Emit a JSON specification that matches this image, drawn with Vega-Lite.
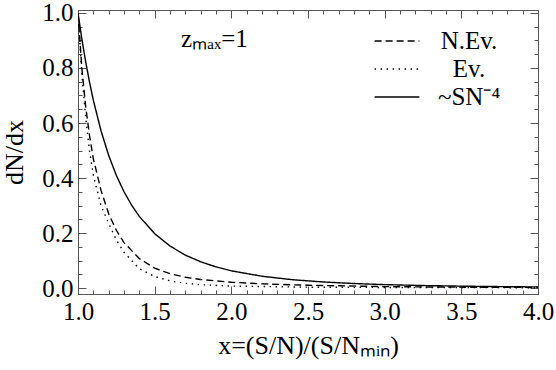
{
  "$schema": "https://vega.github.io/schema/vega-lite/v6.json",
  "width": 460,
  "height": 284,
  "autosize": "none",
  "padding": {"left": 78, "top": 10, "right": 18, "bottom": 76},
  "background": "white",
  "config": {
    "view": {"stroke": "#555", "strokeWidth": 1},
    "font": "Liberation Serif"
  },
  "resolve": {"axis": {"x": "independent", "y": "independent"}},
  "layer": [
    {
      "data": {"values": [
        {"series": "~SN⁻⁴", "x": 1.0, "y": 1.0},
        {"series": "~SN⁻⁴", "x": 1.025, "y": 0.906},
        {"series": "~SN⁻⁴", "x": 1.05, "y": 0.8227},
        {"series": "~SN⁻⁴", "x": 1.075, "y": 0.7489},
        {"series": "~SN⁻⁴", "x": 1.1, "y": 0.683},
        {"series": "~SN⁻⁴", "x": 1.15, "y": 0.5718},
        {"series": "~SN⁻⁴", "x": 1.2, "y": 0.4823},
        {"series": "~SN⁻⁴", "x": 1.25, "y": 0.4096},
        {"series": "~SN⁻⁴", "x": 1.3, "y": 0.3501},
        {"series": "~SN⁻⁴", "x": 1.35, "y": 0.3011},
        {"series": "~SN⁻⁴", "x": 1.4, "y": 0.2603},
        {"series": "~SN⁻⁴", "x": 1.5, "y": 0.1975},
        {"series": "~SN⁻⁴", "x": 1.6, "y": 0.1526},
        {"series": "~SN⁻⁴", "x": 1.7, "y": 0.1197},
        {"series": "~SN⁻⁴", "x": 1.8, "y": 0.0953},
        {"series": "~SN⁻⁴", "x": 1.9, "y": 0.0768},
        {"series": "~SN⁻⁴", "x": 2.0, "y": 0.0625},
        {"series": "~SN⁻⁴", "x": 2.2, "y": 0.0427},
        {"series": "~SN⁻⁴", "x": 2.4, "y": 0.0301},
        {"series": "~SN⁻⁴", "x": 2.6, "y": 0.0219},
        {"series": "~SN⁻⁴", "x": 2.8, "y": 0.0163},
        {"series": "~SN⁻⁴", "x": 3.0, "y": 0.0123},
        {"series": "~SN⁻⁴", "x": 3.25, "y": 0.009},
        {"series": "~SN⁻⁴", "x": 3.5, "y": 0.0067},
        {"series": "~SN⁻⁴", "x": 3.75, "y": 0.0051},
        {"series": "~SN⁻⁴", "x": 4.0, "y": 0.0039},
        {"series": "N.Ev.", "x": 1.0, "y": 1.0},
        {"series": "N.Ev.", "x": 1.025, "y": 0.8},
        {"series": "N.Ev.", "x": 1.05, "y": 0.66},
        {"series": "N.Ev.", "x": 1.075, "y": 0.555},
        {"series": "N.Ev.", "x": 1.1, "y": 0.47},
        {"series": "N.Ev.", "x": 1.15, "y": 0.355},
        {"series": "N.Ev.", "x": 1.2, "y": 0.27},
        {"series": "N.Ev.", "x": 1.25, "y": 0.21},
        {"series": "N.Ev.", "x": 1.3, "y": 0.165},
        {"series": "N.Ev.", "x": 1.4, "y": 0.107},
        {"series": "N.Ev.", "x": 1.5, "y": 0.072},
        {"series": "N.Ev.", "x": 1.6, "y": 0.052},
        {"series": "N.Ev.", "x": 1.7, "y": 0.039},
        {"series": "N.Ev.", "x": 1.8, "y": 0.031},
        {"series": "N.Ev.", "x": 2.0, "y": 0.021},
        {"series": "N.Ev.", "x": 2.2, "y": 0.015},
        {"series": "N.Ev.", "x": 2.5, "y": 0.01},
        {"series": "N.Ev.", "x": 3.0, "y": 0.005},
        {"series": "N.Ev.", "x": 3.5, "y": 0.003},
        {"series": "N.Ev.", "x": 4.0, "y": 0.002},
        {"series": "Ev.", "x": 1.0, "y": 1.0},
        {"series": "Ev.", "x": 1.025, "y": 0.78},
        {"series": "Ev.", "x": 1.05, "y": 0.62},
        {"series": "Ev.", "x": 1.075, "y": 0.5},
        {"series": "Ev.", "x": 1.1, "y": 0.41},
        {"series": "Ev.", "x": 1.15, "y": 0.3},
        {"series": "Ev.", "x": 1.2, "y": 0.235},
        {"series": "Ev.", "x": 1.25, "y": 0.175},
        {"series": "Ev.", "x": 1.3, "y": 0.13},
        {"series": "Ev.", "x": 1.4, "y": 0.07},
        {"series": "Ev.", "x": 1.5, "y": 0.042},
        {"series": "Ev.", "x": 1.6, "y": 0.026},
        {"series": "Ev.", "x": 1.7, "y": 0.017},
        {"series": "Ev.", "x": 1.8, "y": 0.012},
        {"series": "Ev.", "x": 2.0, "y": 0.007},
        {"series": "Ev.", "x": 2.5, "y": 0.003},
        {"series": "Ev.", "x": 3.0, "y": 0.002},
        {"series": "Ev.", "x": 4.0, "y": 0.001}
      ]},
      "mark": {"type": "line", "color": "black", "strokeWidth": 1.4, "clip": true},
      "encoding": {
        "x": {
          "field": "x", "type": "quantitative",
          "scale": {"domain": [1, 4], "nice": false, "zero": false},
          "axis": {
            "orient": "bottom",
            "title": "x=(S/N)/(S/Nₘᵢₙ)",
            "titleFont": "Liberation Serif", "titleFontSize": 26, "titleFontWeight": "normal", "titleColor": "black",
            "titlePadding": 4,
            "values": [1.0,1.1,1.2,1.3,1.4,1.5,1.6,1.7,1.8,1.9,2.0,2.1,2.2,2.3,2.4,2.5,2.6,2.7,2.8,2.9,3.0,3.1,3.2,3.3,3.4,3.5,3.6,3.7,3.8,3.9,4.0],
            "labelExpr": "abs(datum.value*2 - round(datum.value*2)) < 0.001 ? format(datum.value, '.1f') : ''",
            "labelFont": "Liberation Serif", "labelFontSize": 25, "labelColor": "black",
            "labelPadding": 13, "labelFlush": false, "labelOverlap": false,
            "tickSize": {"condition": {"test": "abs(datum.value*2 - round(datum.value*2)) < 0.001", "value": -8}, "value": -4},
            "tickColor": "#555", "domainColor": "#555", "grid": false
          }
        },
        "y": {
          "field": "y", "type": "quantitative",
          "scale": {"domain": [-0.0218, 1.0109], "nice": false, "zero": false},
          "axis": {
            "orient": "left",
            "title": "dN/dx",
            "titleFont": "Liberation Serif", "titleFontSize": 26, "titleFontWeight": "normal", "titleColor": "black",
            "titlePadding": 14,
            "values": [0,0.05,0.1,0.15,0.2,0.25,0.3,0.35,0.4,0.45,0.5,0.55,0.6,0.65,0.7,0.75,0.8,0.85,0.9,0.95,1.0],
            "labelExpr": "abs(datum.value*5 - round(datum.value*5)) < 0.001 ? format(datum.value, '.1f') : ''",
            "labelFont": "Liberation Serif", "labelFontSize": 25, "labelColor": "black",
            "labelPadding": 13, "labelFlush": false, "labelOverlap": false,
            "tickSize": {"condition": {"test": "abs(datum.value*5 - round(datum.value*5)) < 0.001", "value": -8}, "value": -4},
            "tickColor": "#555", "domainColor": "#555", "grid": false
          }
        },
        "detail": {"field": "series"},
        "strokeDash": {
          "field": "series", "type": "nominal",
          "scale": {"domain": ["N.Ev.", "Ev.", "~SN⁻⁴"], "range": [[7, 4], [1.5, 4.5], [1, 0]]},
          "legend": {
            "orient": "none", "legendX": 304, "legendY": 16, "title": null,
            "symbolType": "M-1.6,0H1.6", "symbolSize": 784, "symbolStrokeWidth": 1.4, "symbolStrokeColor": "black", "symbolFillColor": "transparent",
            "labelFont": "Liberation Serif", "labelFontSize": 25, "labelColor": "black",
            "labelAlign": "center", "labelOffset": 57, "rowPadding": 0, "padding": 0
          }
        }
      }
    },
    {
      "data": {"values": [{"label": "zₘₐₓ=1"}]},
      "mark": {"type": "text", "font": "Liberation Serif", "fontSize": 25, "color": "black", "align": "center", "baseline": "alphabetic"},
      "encoding": {
        "x": {
          "datum": 1.89, "type": "quantitative",
          "axis": {
            "orient": "top", "title": null, "labels": false, "domain": false, "grid": false,
            "values": [1.0,1.1,1.2,1.3,1.4,1.5,1.6,1.7,1.8,1.9,2.0,2.1,2.2,2.3,2.4,2.5,2.6,2.7,2.8,2.9,3.0,3.1,3.2,3.3,3.4,3.5,3.6,3.7,3.8,3.9,4.0],
            "tickSize": {"condition": {"test": "abs(datum.value*2 - round(datum.value*2)) < 0.001", "value": -8}, "value": -4},
            "tickColor": "#555"
          }
        },
        "y": {
          "datum": 0.876, "type": "quantitative",
          "axis": {
            "orient": "right", "title": null, "labels": false, "domain": false, "grid": false,
            "values": [0,0.05,0.1,0.15,0.2,0.25,0.3,0.35,0.4,0.45,0.5,0.55,0.6,0.65,0.7,0.75,0.8,0.85,0.9,0.95,1.0],
            "tickSize": {"condition": {"test": "abs(datum.value*5 - round(datum.value*5)) < 0.001", "value": -8}, "value": -4},
            "tickColor": "#555"
          }
        },
        "text": {"field": "label"}
      }
    }
  ]
}
